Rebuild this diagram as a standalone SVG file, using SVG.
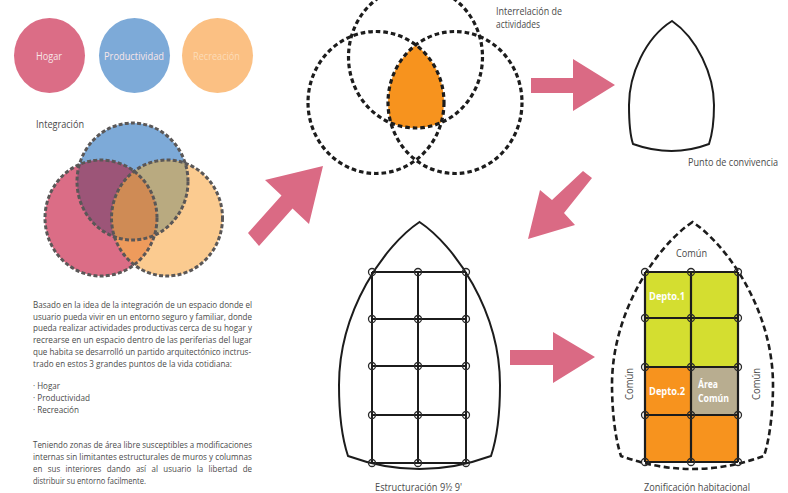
<svg xmlns="http://www.w3.org/2000/svg" xmlns:xlink="http://www.w3.org/1999/xlink" width="788" height="493" viewBox="0 0 788 493">
<style>
text{font-family:"Open Sans","Noto Sans","Liberation Sans",sans-serif;fill:#4a4a4a;font-size:9.5px}
.lbl{font-size:10px}
.w{fill:#f8e6e8;font-size:10px}
.b{fill:#fff;font-size:10.5px;font-weight:700}
.arrow{fill:#DA6A84}
.dg{fill:none;stroke:#5a5757;stroke-width:3;stroke-dasharray:4 2.2}
.dk{fill:none;stroke:#1c1c1c;stroke-width:3.2;stroke-dasharray:4.6 3}
.dz{fill:none;stroke:#1c1c1c;stroke-width:2.6;stroke-dasharray:6 3.5}
.sh{fill:none;stroke:#1c1c1c;stroke-width:2}
.gl{fill:none;stroke:#1c1c1c;stroke-width:2}
.nd{fill:none;stroke:#2a2a2a;stroke-width:1.3}
</style>
<defs>
<ellipse id="iT" cx="132.5" cy="181.5" rx="55.5" ry="58.5"/>
<ellipse id="iL" cx="101" cy="218" rx="56" ry="58"/>
<ellipse id="iR" cx="167" cy="218" rx="55.5" ry="58"/>
<clipPath id="cT"><use xlink:href="#iT"/></clipPath>
<clipPath id="cL"><use xlink:href="#iL"/></clipPath>
<clipPath id="cTL" clip-path="url(#cT)"><use xlink:href="#iL"/></clipPath>
<clipPath id="cTR" clip-path="url(#cT)"><use xlink:href="#iR"/></clipPath>
<clipPath id="cLR" clip-path="url(#cL)"><use xlink:href="#iR"/></clipPath>
<clipPath id="cTLR" clip-path="url(#cTL)"><use xlink:href="#iR"/></clipPath>
<ellipse id="rT" cx="415.5" cy="57" rx="67" ry="71"/>
<ellipse id="rL" cx="376" cy="102.5" rx="68" ry="71"/>
<ellipse id="rR" cx="455" cy="102.5" rx="67" ry="71"/>
<clipPath id="dT"><use xlink:href="#rT"/></clipPath>
<clipPath id="dTL" clip-path="url(#dT)"><use xlink:href="#rL"/></clipPath>
<path id="shield" d="M419.5,222 C385,245 339,310 339,385 C339,410 342,438 348,456 Q419.5,482 491,456 C497,438 500,410 500,385 C500,310 454,245 419.5,222 Z"/>
</defs>

<g id="connectors">
<path class="arrow" d="M248,233 L281.5,195.5 L265,180 L323,166 L309,224 L292.5,208.500 L259,246 Z"/>
<path class="arrow" d="M531,78 H573 V59 L615,85 L573,111 V93 H531 Z"/>
<path class="arrow" d="M583,171 L592,178 L564,213 L575,225 L528,239 L540,190 L552,200 Z"/>
<path class="arrow" d="M510,350 H553 V332 L595,357 L553,383 V365 H510 Z"/>
</g>

<g id="hogar">
<ellipse cx="49.500" cy="55.500" rx="35.500" ry="37.500" fill="#DB6D86"/>
<text class="w" x="36" y="60" textLength="26" lengthAdjust="spacingAndGlyphs">Hogar</text>
</g>
<g id="productividad">
<ellipse cx="134.500" cy="55.500" rx="35.500" ry="37.500" fill="#7DAAD8"/>
<text class="w" x="104" y="60" textLength="60" lengthAdjust="spacingAndGlyphs">Productividad</text>
</g>
<g id="recreacion">
<ellipse cx="217.500" cy="55.500" rx="35.500" ry="37.500" fill="#FBC083"/>
<text class="w" x="193" y="60" textLength="47" lengthAdjust="spacingAndGlyphs" style="fill:#fcdcb8">Recreación</text>
</g>

<g id="integracion">
<text class="lbl" x="36" y="128" textLength="48" lengthAdjust="spacingAndGlyphs">Integración</text>
<use xlink:href="#iT" fill="#7DAAD8"/>
<use xlink:href="#iR" fill="#FBCB90"/>
<use xlink:href="#iL" fill="#DB6D86"/>
<rect x="40" y="120" width="190" height="160" fill="#B9AA80" clip-path="url(#cTR)"/>
<rect x="40" y="120" width="190" height="160" fill="#9C5578" clip-path="url(#cTL)"/>
<rect x="40" y="120" width="190" height="160" fill="#EE9B5C" clip-path="url(#cLR)"/>
<rect x="40" y="120" width="190" height="160" fill="#CF8B55" clip-path="url(#cTLR)"/>
<use xlink:href="#iT" class="dg"/>
<use xlink:href="#iL" class="dg"/>
<use xlink:href="#iR" class="dg"/>
</g>

<g id="descripcion">
<text x="33" y="308" textLength="219" lengthAdjust="spacingAndGlyphs">Basado en la idea de la integración de un espacio donde el</text>
<text x="33" y="319.500" textLength="219" lengthAdjust="spacingAndGlyphs">usuario pueda vivir en un entorno seguro y familiar, donde</text>
<text x="33" y="331" textLength="219" lengthAdjust="spacingAndGlyphs">pueda realizar actividades productivas cerca de su hogar y</text>
<text x="33" y="343" textLength="219" lengthAdjust="spacingAndGlyphs">recrearse en un espacio dentro de las periferias del lugar</text>
<text x="33" y="355" textLength="218" lengthAdjust="spacingAndGlyphs">que habita se desarrolló un partido arquitectónico inctrus-</text>
<text x="33" y="366.500" textLength="199" lengthAdjust="spacingAndGlyphs">trado en estos 3 grandes puntos de la vida cotidiana:</text>
<text x="33" y="389" textLength="27" lengthAdjust="spacingAndGlyphs">· Hogar</text>
<text x="33" y="401" textLength="57" lengthAdjust="spacingAndGlyphs">· Productividad</text>
<text x="33" y="413" textLength="46" lengthAdjust="spacingAndGlyphs">· Recreación</text>
<text x="33" y="448" textLength="219" lengthAdjust="spacingAndGlyphs">Teniendo zonas de área libre susceptibles a modificaciones</text>
<text x="33" y="460" textLength="219" lengthAdjust="spacingAndGlyphs">internas sin limitantes estructurales de muros y columnas</text>
<text x="33" y="472" textLength="219" lengthAdjust="spacingAndGlyphs" word-spacing="4">en sus interiores dando así al usuario la libertad de</text>
<text x="33" y="483.500" textLength="113" lengthAdjust="spacingAndGlyphs">distribuir su entorno facilmente.</text>
</g>

<g id="interrelacion">
<g clip-path="url(#dTL)"><use xlink:href="#rR" fill="#F7931E"/></g>
<use xlink:href="#rT" class="dk"/>
<use xlink:href="#rL" class="dk"/>
<use xlink:href="#rR" class="dk"/>
<text class="lbl" x="496" y="15" textLength="66" lengthAdjust="spacingAndGlyphs">Interrelación de</text>
<text class="lbl" x="496" y="28" textLength="44" lengthAdjust="spacingAndGlyphs">actividades</text>
</g>

<g id="punto">
<path class="sh" d="M672,21 C645,38 629,75 629,105 C629,120 630,135 633,144 Q672,158 709,144 C712,135 714,120 714,105 C714,75 697,38 672,21 Z"/>
<text class="lbl" x="688" y="166" textLength="90" lengthAdjust="spacingAndGlyphs">Punto de convivencia</text>
</g>

<g id="estructuracion">
<use xlink:href="#shield" class="sh"/>
<path class="gl" d="M372,272 V463 M418,272 V463 M466,272 V463 M372,272 H466 M372,319 H466 M372,366 H466 M372,415 H466 M372,463 H466"/>
<g class="nd">
<circle cx="372" cy="272" r="3.500"/><circle cx="418" cy="272" r="3.500"/><circle cx="466" cy="272" r="3.500"/>
<circle cx="372" cy="319" r="3.500"/><circle cx="418" cy="319" r="3.500"/><circle cx="466" cy="319" r="3.500"/>
<circle cx="372" cy="366" r="3.500"/><circle cx="418" cy="366" r="3.500"/><circle cx="466" cy="366" r="3.500"/>
<circle cx="372" cy="415" r="3.500"/><circle cx="418" cy="415" r="3.500"/><circle cx="466" cy="415" r="3.500"/>
<circle cx="372" cy="463" r="3.500"/><circle cx="418" cy="463" r="3.500"/><circle cx="466" cy="463" r="3.500"/>
</g>
<text class="lbl" x="375" y="491" textLength="87" lengthAdjust="spacingAndGlyphs">Estructuración 9½ 9'</text>
</g>

<g id="zonificacion">
<use xlink:href="#shield" class="dz" transform="translate(273,0)"/>
<rect x="645" y="272" width="93" height="95" fill="#D4DE30"/>
<rect x="645" y="367" width="93" height="95" fill="#F7931E"/>
<rect x="691" y="367" width="47" height="48" fill="#B8AD90"/>
<path class="gl" style="stroke-width:2.200" d="M645,272 V462 M691,272 V462 M738,272 V462 M645,272 H738 M645,318 H738 M645,367 H738 M645,415 H738 M645,462 H738"/>
<g class="nd">
<circle cx="645" cy="272" r="3.500"/><circle cx="691" cy="272" r="3.500"/><circle cx="738" cy="272" r="3.500"/>
<circle cx="645" cy="318" r="3.500"/><circle cx="691" cy="318" r="3.500"/><circle cx="738" cy="318" r="3.500"/>
<circle cx="645" cy="367" r="3.500"/><circle cx="691" cy="367" r="3.500"/><circle cx="738" cy="367" r="3.500"/>
<circle cx="645" cy="415" r="3.500"/><circle cx="691" cy="415" r="3.500"/><circle cx="738" cy="415" r="3.500"/>
<circle cx="645" cy="462" r="3.500"/><circle cx="691" cy="462" r="3.500"/><circle cx="738" cy="462" r="3.500"/>
</g>
<text class="lbl" x="676" y="257" textLength="31" lengthAdjust="spacingAndGlyphs">Común</text>
<text class="lbl" transform="translate(633,400) rotate(-90)" textLength="32" lengthAdjust="spacingAndGlyphs">Común</text>
<text class="lbl" transform="translate(760,400) rotate(-90)" textLength="32" lengthAdjust="spacingAndGlyphs">Común</text>
<text class="b" x="649" y="300" textLength="36" lengthAdjust="spacingAndGlyphs">Depto.1</text>
<text class="b" x="649" y="395" textLength="36" lengthAdjust="spacingAndGlyphs">Depto.2</text>
<text class="b" x="698" y="388" textLength="20" lengthAdjust="spacingAndGlyphs">Área</text>
<text class="b" x="698" y="402" textLength="31" lengthAdjust="spacingAndGlyphs">Común</text>
<text class="lbl" x="644" y="491" textLength="106" lengthAdjust="spacingAndGlyphs">Zonificación habitacional</text>
</g>
</svg>
